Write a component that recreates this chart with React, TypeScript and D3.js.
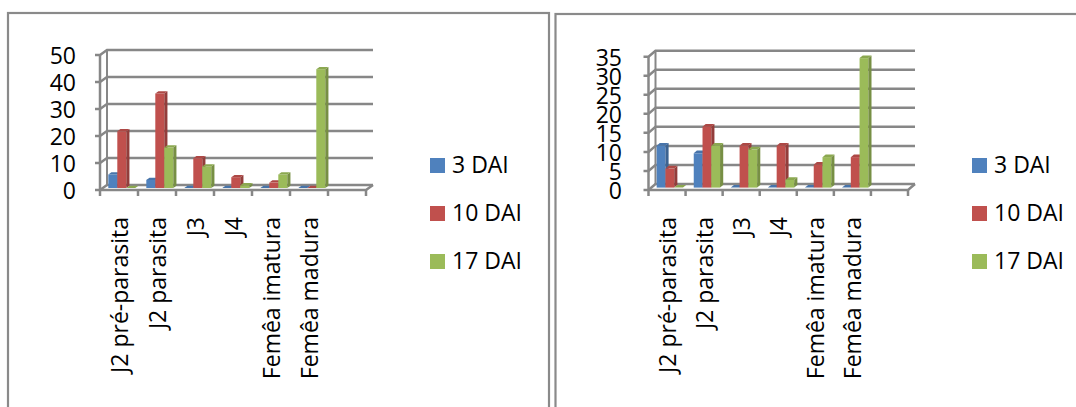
import React from "react";
import * as d3 from "d3";

const categories = ["J2 pré-parasita", "J2 parasita", "J3", "J4", "Femêa imatura", "Femêa madura"];
const seriesNames = ["3 DAI", "10 DAI", "17 DAI"];
const seriesColors = ["#4F81BD", "#C0504D", "#9BBB59"];

const leftDAI3 = [5, 3, 0, 0, 0, 0];
const leftDAI10 = [21, 35, 11, 4, 2, 0];
const leftDAI17 = [0, 15, 8, 1, 5, 44];
const leftTicks = [0, 10, 20, 30, 40, 50];

const rightDAI3 = [11, 9, 0, 0, 0, 0];
const rightDAI10 = [5, 16, 11, 11, 6, 8];
const rightDAI17 = [0, 11, 10, 2, 8, 34];
const rightTicks = [0, 5, 10, 15, 20, 25, 30, 35];

const SLOT_COUNT = 7; // 6 categories + one empty slot on the floor
const FONT = "'Open Sans', sans-serif";
const GRID = "#878787";

type Geom = {
  panelX: number; panelY: number; panelW: number; panelH: number;
  x0: number; x1: number; yF0: number; dx: number; dy: number; yTopBack: number;
  labelRight: number; legendX: number;
};

function Chart3D({ series, ticks, geom }: { series: number[][]; ticks: number[]; geom: Geom }) {
  const { x0, x1, yF0, dx, dy, yTopBack } = geom;
  const yMax = ticks[ticks.length - 1];
  const yBack = d3.scaleLinear().domain([0, yMax]).range([yF0 + dy, yTopBack]);
  const yFront = (v: number) => yBack(v) - dy;
  const xs = d3.scaleBand<number>().domain(d3.range(SLOT_COUNT)).range([x0, x1]);
  const bw = xs.bandwidth();
  const sub = d3.scaleBand<number>().domain(d3.range(series.length)).range([bw * 0.145, bw * 0.855]);
  const w = sub.bandwidth();
  const tf = 0.4, tb = 0.85;
  const sdx = (tb - tf) * dx, sdy = (tb - tf) * dy;
  const wallW = x1 - x0;

  const bars: JSX.Element[] = [];
  categories.forEach((_, i) => {
    series.forEach((vals, s) => {
      const v = vals[i];
      const x = (xs(i) as number) + (sub(s) as number) + tf * dx;
      const yTop = yBack(v) - dy * (1 - tf);
      const yBot = yBack(0) - dy * (1 - tf);
      const c = d3.color(seriesColors[s])!;
      const side = c.darker(0.75).formatHex();
      const top = c.darker(0.3).formatHex();
      bars.push(
        <g key={`b${i}-${s}`}>
          {yBot - yTop > 0 && <rect x={x} y={yTop} width={w} height={yBot - yTop} fill={seriesColors[s]} />}
          {yBot - yTop > 0 && (
            <polygon
              points={`${x + w},${yTop} ${x + w + sdx},${yTop + sdy} ${x + w + sdx},${yBot + sdy} ${x + w},${yBot}`}
              fill={side}
            />
          )}
          <polygon
            points={`${x},${yTop} ${x + w},${yTop} ${x + w + sdx},${yTop + sdy} ${x + sdx},${yTop + sdy}`}
            fill={top}
          />
        </g>
      );
    });
  });

  return (
    <g>
      <rect x={geom.panelX} y={geom.panelY} width={geom.panelW} height={geom.panelH} fill="#fff" stroke="#8a8a8a" strokeWidth={2.2} />
      {/* gridlines: side wall + back wall */}
      {ticks.map((t) => (
        <path
          key={`g${t}`}
          d={`M${x0 - 5},${yFront(t)} L${x0},${yFront(t)} L${x0 + dx},${yBack(t)} L${x0 + dx + wallW},${yBack(t)}`}
          fill="none" stroke={GRID} strokeWidth={2.5}
        />
      ))}
      <line x1={x0} x2={x0} y1={yFront(yMax)} y2={yFront(0)} stroke={GRID} strokeWidth={2.5} />
      <line x1={x0 + dx} x2={x0 + dx} y1={yBack(yMax)} y2={yBack(0)} stroke={GRID} strokeWidth={2} />
      {/* floor */}
      <path d={`M${x0},${yF0} L${x1},${yF0} L${x1 + dx},${yF0 + dy}`} fill="none" stroke={GRID} strokeWidth={2.5} />
      {d3.range(SLOT_COUNT + 1).map((k) => {
        const x = x0 + k * bw;
        return <line key={`xt${k}`} x1={x} x2={x} y1={yF0} y2={yF0 + 6} stroke={GRID} strokeWidth={2.5} />;
      })}
      {bars}
      {/* y tick labels */}
      {ticks.map((t) => (
        <text key={`yl${t}`} x={geom.labelRight} y={yFront(t) + 9.3} textAnchor="end" fontFamily={FONT} fontSize={23} fill="#000">
          {t}
        </text>
      ))}
      {/* x labels */}
      {categories.map((c, i) => (
        <text
          key={`xl${i}`}
          transform={`translate(${(xs(i) as number) + bw / 2 + 9},217) rotate(-90)`}
          textAnchor="end" fontFamily={FONT} fontSize={23} fill="#000"
        >
          {c}
        </text>
      ))}
      {/* legend */}
      {seriesNames.map((n, s) => (
        <g key={`lg${s}`}>
          <rect x={geom.legendX} y={158 + s * 48} width={15} height={15} fill={seriesColors[s]} />
          <text x={geom.legendX + 22} y={173 + s * 48} fontFamily={FONT} fontSize={23} fill="#000">{n}</text>
        </g>
      ))}
    </g>
  );
}

const leftGeom: Geom = {
  panelX: 8, panelY: 13, panelW: 541, panelH: 420,
  x0: 100, x1: 366, yF0: 190, dx: 7, dy: -5, yTopBack: 50,
  labelRight: 76, legendX: 430,
};
const rightGeom: Geom = {
  panelX: 555.5, panelY: 14, panelW: 540, panelH: 420,
  x0: 648.5, x1: 908, yF0: 190, dx: 7, dy: -6, yTopBack: 50.7,
  labelRight: 622, legendX: 972,
};

export default function App() {
  return (
    <svg width={1076} height={407} style={{ position: "absolute", left: 0, top: 0 }}>
      <rect width={1076} height={407} fill="#fff" />
      <Chart3D series={[leftDAI3, leftDAI10, leftDAI17]} ticks={leftTicks} geom={leftGeom} />
      <Chart3D series={[rightDAI3, rightDAI10, rightDAI17]} ticks={rightTicks} geom={rightGeom} />
    </svg>
  );
}
